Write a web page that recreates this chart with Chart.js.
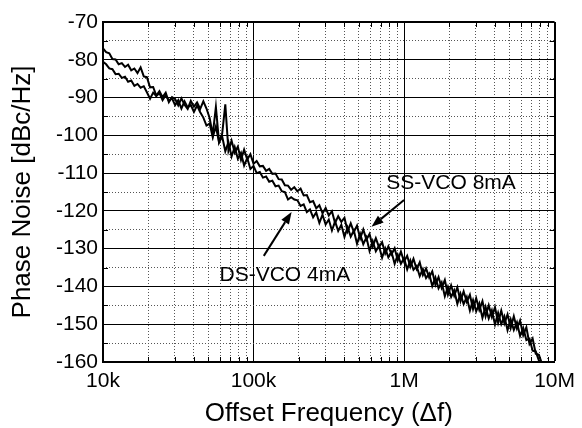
<!DOCTYPE html>
<html>
<head>
<meta charset="utf-8">
<script src="https://cdn.jsdelivr.net/npm/chart.js@4.4.0/dist/chart.umd.min.js"></script>
<style>
  html, body { margin: 0; padding: 0; background: #fff; }
  #wrap { width: 582px; height: 428px; }
</style>
</head>
<body>
<div id="wrap"><canvas id="pn" width="582" height="428"></canvas></div>
<script>
// offset frequency grid (Hz)
const freqHz = [
  10000, 10490, 11010, 11550, 12120, 12710, 13340, 14000, 14680, 15400, 16160, 16950,
  17780, 18660, 19570, 20540, 21540, 22600, 23710, 24880, 26100, 27380, 28730, 30140,
  31620, 33180, 34810, 36520, 38310, 40190, 42170, 44240, 46420, 48700, 51090, 53600,
  56230, 59000, 61900, 64940, 68130, 71480, 74990, 78670, 82540, 86600, 90850, 95320,
  100000, 104900, 110100, 115500, 121200, 127100, 133400, 140000, 146800, 154000, 161600, 169500,
  177800, 186600, 195700, 205400, 215400, 226000, 237100, 248800, 261000, 273800, 287300, 301400,
  316200, 331800, 348100, 365200, 383100, 401900, 421700, 442400, 464200, 487000, 510900, 536000,
  562300, 590000, 619000, 649400, 681300, 714800, 749900, 786700, 825400, 866000, 908500, 953200,
  1000000, 1049000, 1101000, 1155000, 1212000, 1271000, 1334000, 1400000, 1468000, 1540000, 1616000, 1695000,
  1778000, 1866000, 1957000, 2054000, 2154000, 2260000, 2371000, 2488000, 2610000, 2738000, 2873000, 3014000,
  3162000, 3318000, 3481000, 3652000, 3831000, 4019000, 4217000, 4424000, 4642000, 4870000, 5109000, 5360000,
  5623000, 5900000, 6190000, 6494000, 6813000, 7148000, 7499000, 7868000, 8254000
];

// phase noise, dBc/Hz
const ssVco8mA = [
  -77.0, -78.0, -78.3, -79.8, -79.9, -81.2, -80.9, -81.9, -81.3, -82.8,
  -82.3, -83.5, -82.0, -84.4, -84.6, -87.3, -87.2, -89.5, -88.3, -89.9,
  -88.7, -91.2, -89.9, -90.4, -92.1, -90.2, -91.9, -93.0, -90.9, -92.4,
  -91.3, -93.0, -91.0, -92.9, -95.4, -99.8, -92.5, -101.8, -99.6, -91.8,
  -104.1, -101.4, -104.6, -103.0, -106.5, -103.8, -106.4, -105.0, -107.5, -106.8,
  -108.2, -108.1, -109.4, -108.9, -110.2, -110.1, -111.6, -111.7, -113.2, -113.3,
  -114.4, -113.7, -114.8, -114.1, -115.9, -115.8, -117.7, -117.4, -119.3, -118.5,
  -120.6, -119.2, -121.2, -120.1, -123.2, -121.4, -122.9, -121.8, -125.4, -123.3,
  -125.6, -123.9, -127.3, -124.9, -127.6, -126.1, -129.4, -127.2, -129.6, -128.3,
  -131.3, -129.4, -131.5, -129.9, -133.1, -130.8, -133.4, -131.9, -134.8, -132.7,
  -135.4, -133.6, -137.0, -135.2, -137.6, -136.0, -139.6, -137.5, -140.4, -138.3,
  -142.2, -139.7, -142.5, -140.2, -143.9, -141.3, -144.1, -142.2, -146.0, -143.1,
  -146.2, -143.9, -147.9, -145.0, -148.1, -145.5, -149.6, -146.4, -149.8, -147.4,
  -151.0, -147.9, -151.2, -149.0, -152.9, -150.8, -155.2, -153.8, -157.8, -158.1,
  -160.5
];
const dsVco4mA = [
  -80.5, -81.2, -82.3, -82.5, -83.8, -83.7, -84.8, -84.5, -85.8, -85.5,
  -86.9, -86.4, -87.4, -87.0, -88.6, -90.3, -88.7, -89.6, -88.8, -90.7,
  -89.4, -90.8, -90.2, -92.0, -90.7, -92.9, -91.0, -92.6, -92.0, -93.8,
  -92.1, -93.9, -95.3, -97.4, -96.9, -100.5, -97.6, -101.9, -100.3, -104.2,
  -101.8, -105.6, -103.1, -106.2, -104.6, -108.0, -106.0, -108.9, -108.1, -110.0,
  -109.7, -111.2, -110.9, -112.3, -112.0, -113.5, -113.3, -114.8, -115.0, -117.0,
  -116.4, -117.0, -117.2, -118.7, -118.3, -120.3, -119.6, -121.7, -120.4, -123.2,
  -121.0, -123.6, -122.3, -125.2, -122.8, -125.3, -123.7, -126.9, -124.3, -126.8,
  -125.2, -128.7, -126.1, -128.8, -127.0, -130.6, -128.0, -130.7, -129.2, -132.4,
  -129.9, -132.3, -130.9, -134.0, -131.6, -134.0, -132.5, -135.5, -133.1, -135.6,
  -134.6, -137.3, -135.4, -137.8, -136.6, -139.9, -137.6, -140.5, -138.9, -142.6,
  -140.1, -142.8, -141.0, -144.6, -141.9, -144.7, -142.8, -146.4, -143.6, -146.6,
  -144.5, -148.3, -145.4, -148.5, -146.3, -150.1, -147.0, -150.0, -147.9, -151.6,
  -148.7, -151.5, -149.5, -153.1, -151.0, -154.2, -153.8, -157.0, -157.2, -159.6,
  -161.0
];

const xMajorTicks = [1e4, 1e5, 1e6, 1e7];
const xTickLabels = ['10k', '100k', '1M', '10M'];
const xMinorTicks = [2e4, 3e4, 4e4, 5e4, 6e4, 7e4, 8e4, 9e4,
                     2e5, 3e5, 4e5, 5e5, 6e5, 7e5, 8e5, 9e5,
                     2e6, 3e6, 4e6, 5e6, 6e6, 7e6, 8e6, 9e6];
const yMajorTicks = [-160, -150, -140, -130, -120, -110, -100, -90, -80, -70];
const yMinorTicks = [-155, -145, -135, -125, -115, -105, -95, -85, -75];

// annotation labels and arrows, in data units (Hz, dBc/Hz)
const noteTexts = ['SS-VCO 8mA', 'DS-VCO 4mA'];
const noteAt = [[7.62e5, -112.6], [5.94e4, -137.0]];
const arrowFrom = [[1.0e6, -117.1], [1.17e5, -131.9]];
const arrowTo = [[6.08e5, -124.2], [1.79e5, -120.3]];

const FONT = "'Liberation Sans', Arial, Helvetica, sans-serif";

function toPoints(vals) {
  return freqHz.map((f, i) => ({ x: f, y: vals[i] }));
}

// short inward tick marks on all four frame edges
const edgeTicks = {
  id: 'edgeTicks',
  beforeDatasetsDraw(chart) {
    const { ctx, chartArea: a, scales } = chart;
    const len = 5;
    ctx.save();
    ctx.strokeStyle = '#000';
    ctx.lineWidth = 1;
    ctx.beginPath();
    xMinorTicks.forEach(v => {
      const px = Math.round(scales.x.getPixelForValue(v)) + 0.5;
      ctx.moveTo(px, a.bottom); ctx.lineTo(px, a.bottom - len);
      ctx.moveTo(px, a.top); ctx.lineTo(px, a.top + len);
    });
    yMinorTicks.forEach(v => {
      const py = Math.round(scales.y.getPixelForValue(v)) + 0.5;
      ctx.moveTo(a.left, py); ctx.lineTo(a.left + len, py);
      ctx.moveTo(a.right, py); ctx.lineTo(a.right - len, py);
    });
    ctx.stroke();
    ctx.restore();
  }
};

const notes = {
  id: 'notes',
  afterDatasetsDraw(chart) {
    const { ctx, scales } = chart;
    const px = p => [scales.x.getPixelForValue(p[0]), scales.y.getPixelForValue(p[1])];
    ctx.save();
    ctx.fillStyle = '#000';
    ctx.strokeStyle = '#000';
    ctx.font = '21px ' + FONT;
    ctx.textAlign = 'left';
    ctx.textBaseline = 'middle';
    noteTexts.forEach((t, i) => {
      const [x, y] = px(noteAt[i]);
      ctx.fillText(t, x, y);
    });
    arrowFrom.forEach((from, i) => {
      const [x0, y0] = px(from);
      const [x1, y1] = px(arrowTo[i]);
      const ang = Math.atan2(y1 - y0, x1 - x0);
      const hl = 12, hw = 4.5;
      const bx = x1 - hl * Math.cos(ang), by = y1 - hl * Math.sin(ang);
      ctx.lineWidth = 2;
      ctx.beginPath();
      ctx.moveTo(x0, y0);
      ctx.lineTo(bx, by);
      ctx.stroke();
      ctx.beginPath();
      ctx.moveTo(x1, y1);
      ctx.lineTo(bx + hw * Math.sin(ang), by - hw * Math.cos(ang));
      ctx.lineTo(bx - hw * Math.sin(ang), by + hw * Math.cos(ang));
      ctx.closePath();
      ctx.fill();
    });
    ctx.restore();
  }
};

const traceStyle = { borderColor: '#000', borderWidth: 2, pointRadius: 0, tension: 0, fill: false };

new Chart(document.getElementById('pn'), {
  type: 'line',
  data: {
    datasets: [
      { label: 'SS-VCO 8mA', data: toPoints(ssVco8mA), ...traceStyle },
      { label: 'DS-VCO 4mA', data: toPoints(dsVco4mA), ...traceStyle }
    ]
  },
  options: {
    responsive: false,
    animation: false,
    layout: { padding: { top: 22, right: 22, left: 0, bottom: 0 } },
    plugins: { legend: { display: false }, tooltip: { enabled: false } },
    scales: {
      x: {
        type: 'logarithmic', min: 1e4, max: 1e7, position: 'bottom',
        afterBuildTicks: s => { s.ticks = xMajorTicks.map(v => ({ value: v })); },
        afterFit: s => { s.height = 66; },
        ticks: {
          callback: v => xTickLabels[xMajorTicks.indexOf(v)],
          font: { family: FONT, size: 21 }, color: '#000', padding: 7,
          maxRotation: 0, autoSkip: false
        },
        grid: { color: '#000', lineWidth: c => (c.tick && c.tick.value === 1e7 ? 2 : 1), drawTicks: false },
        border: { color: '#000', width: 2 },
        title: {
          display: true, text: 'Offset Frequency (Δf)', color: '#000',
          font: { family: FONT, size: 26, lineHeight: 1 }, padding: { top: 0, bottom: 1 }
        }
      },
      xMinor: {
        type: 'logarithmic', min: 1e4, max: 1e7, position: 'bottom',
        afterBuildTicks: s => { s.ticks = xMinorTicks.map(v => ({ value: v })); },
        ticks: { display: false },
        grid: { color: '#555', lineWidth: 1, drawTicks: false },
        border: { display: false, dash: [1, 2] }
      },
      y: {
        type: 'linear', min: -160, max: -70, position: 'left',
        afterBuildTicks: s => { s.ticks = yMajorTicks.map(v => ({ value: v })); },
        afterFit: s => { s.width = 103; },
        ticks: { font: { family: FONT, size: 21 }, color: '#000', padding: 5 },
        grid: { color: '#000', lineWidth: c => (c.tick && c.tick.value === -70 ? 2 : 1), drawTicks: false },
        border: { color: '#000', width: 2 },
        title: {
          display: true, text: 'Phase Noise [dBc/Hz]', color: '#000',
          font: { family: FONT, size: 26, lineHeight: 1 }, padding: { top: 10, bottom: 0 }
        }
      },
      yMinor: {
        type: 'linear', min: -160, max: -70, position: 'left',
        afterBuildTicks: s => { s.ticks = yMinorTicks.map(v => ({ value: v })); },
        ticks: { display: false },
        grid: { color: '#555', lineWidth: 1, drawTicks: false },
        border: { display: false, dash: [1, 2] }
      }
    }
  },
  plugins: [edgeTicks, notes]
});
</script>
</body>
</html>
